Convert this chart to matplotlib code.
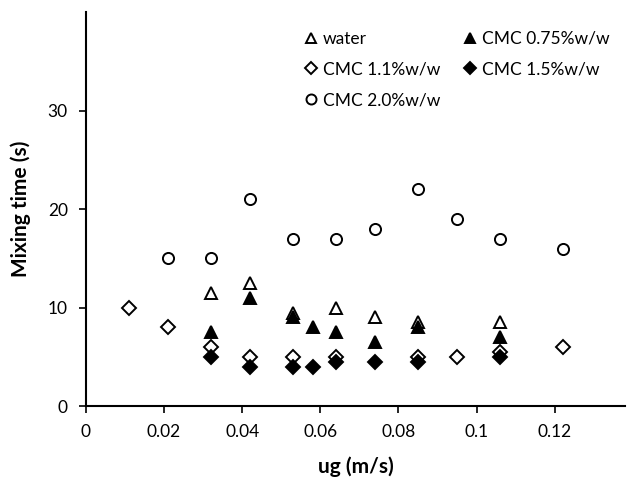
import matplotlib.pyplot as plt

plt.rcParams['font.family'] = ['Lato', 'DejaVu Sans']

# data
x_water = [0.032, 0.042, 0.053, 0.064, 0.074, 0.085, 0.106]
y_water = [11.5, 12.5, 9.5, 10, 9, 8.5, 8.5]

x_cmc075 = [0.032, 0.042, 0.053, 0.058, 0.064, 0.074, 0.085, 0.106]
y_cmc075 = [7.5, 11, 9, 8, 7.5, 6.5, 8, 7]

x_cmc11 = [0.011, 0.021, 0.032, 0.042, 0.053, 0.064, 0.085, 0.095, 0.106, 0.122]
y_cmc11 = [10, 8, 6, 5, 5, 5, 5, 5, 5.5, 6]

x_cmc15 = [0.032, 0.042, 0.053, 0.058, 0.064, 0.074, 0.085, 0.106]
y_cmc15 = [5, 4, 4, 4, 4.5, 4.5, 4.5, 5]

x_cmc20 = [0.021, 0.032, 0.042, 0.053, 0.064, 0.074, 0.085, 0.095, 0.106, 0.122]
y_cmc20 = [15, 15, 21, 17, 17, 18, 22, 19, 17, 16]

x_ticks = [0, 0.02, 0.04, 0.06, 0.08, 0.1, 0.12]
x_ticklabels = ['0', '0.02', '0.04', '0.06', '0.08', '0.1', '0.12']
y_ticks = [0, 10, 20, 30]

fig = plt.figure(figsize=(6.27, 4.79), dpi=100)
ax = fig.add_axes([0.137, 0.152, 0.86, 0.823])

ms = 8.5
mew = 1.4
h_water, = ax.plot(x_water, y_water, '^', ms=ms, mfc='white', mec='black', mew=mew, ls='none', label='water')
h_075, = ax.plot(x_cmc075, y_cmc075, '^', ms=ms, mfc='black', mec='black', mew=mew, ls='none', label='CMC 0.75%w/w')
h_11, = ax.plot(x_cmc11, y_cmc11, 'D', ms=7, mfc='white', mec='black', mew=mew, ls='none', label='CMC 1.1%w/w')
h_15, = ax.plot(x_cmc15, y_cmc15, 'D', ms=7, mfc='black', mec='black', mew=mew, ls='none', label='CMC 1.5%w/w')
h_20, = ax.plot(x_cmc20, y_cmc20, 'o', ms=8, mfc='white', mec='black', mew=mew, ls='none', label='CMC 2.0%w/w')

ax.set_xlim(0, 0.138)
ax.set_ylim(0, 40)
ax.set_xticks(x_ticks)
ax.set_xticklabels(x_ticklabels)
ax.set_yticks(y_ticks)
ax.tick_params(labelsize=12.5, direction='out', length=5, width=1.2, pad=8)

for s in ['top', 'right']:
    ax.spines[s].set_visible(False)
for s in ['left', 'bottom']:
    ax.spines[s].set_linewidth(1.5)

ax.set_xlabel('ug (m/s)', fontsize=15, fontweight='bold', labelpad=12)
ax.set_ylabel('Mixing time (s)', fontsize=15, fontweight='bold', labelpad=12)

# legend fills column by column, so reorder to read row by row like the reference
handles = [h_water, h_11, h_20, h_075, h_15]
ax.legend(handles=handles, ncol=2, frameon=False, fontsize=12.5, loc='upper left',
          bbox_to_anchor=(0.388, 0.97), handlelength=1.0, handletextpad=0.2,
          columnspacing=1.2, labelspacing=0.85, markerscale=0.9,
          borderaxespad=0)

fig.savefig('out.png', dpi=100)
